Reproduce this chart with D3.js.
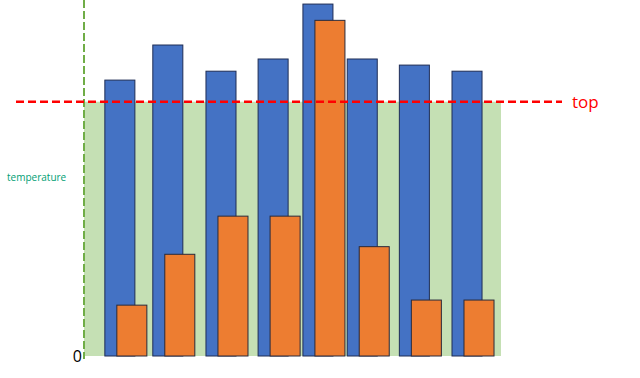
<!DOCTYPE html>
<html lang="en">
<head>
    <meta charset="UTF-8">
    <title>Temperature bars</title>
    <style>
        body { margin: 0; background: #fff; }
        text { font-family: "Open Sans", "DejaVu Sans", sans-serif; }
    </style>
</head>
<body>
<svg height="378" width="640"></svg>

<script src="https://d3js.org/d3.v7.min.js"></script>
<script>

    // category positions (in slot units) and values
    var slots = [0.4, 1.32, 2.34, 3.34, 4.2, 5.05, 6.05, 7.06];
    var blueVals = [108.5, 122.3, 112, 116.8, 138.4, 116.8, 114.4, 112];
    var orangeVals = [20, 40, 55, 55, 132, 43, 22, 22];
    var topVal = 100;
    var zeroLabel = "0";

    var svg = d3.select("svg");

    var x = d3.scaleLinear().domain([0, 8]).range([84, 501]);
    var y = d3.scaleLinear().domain([0, 140]).range([356, 0]);
    var barW = x(0.576) - x(0);
    var orangeShift = x(0.23) - x(0);

    // green band behind bars
    svg.append("rect")
        .attr("x", x(0))
        .attr("y", y(topVal))
        .attr("width", x(8) - x(0))
        .attr("height", y(0) - y(topVal))
        .attr("fill", "#c5e0b4");

    // blue series
    svg.selectAll(".blue")
        .data(blueVals)
        .enter()
        .append("rect")
        .attr("class", "blue")
        .attr("x", function(d, i) { return x(slots[i]) })
        .attr("y", function(d) { return y(d) })
        .attr("width", barW)
        .attr("height", function(d) { return y(0) - y(d) })
        .attr("fill", "#4472c4")
        .attr("stroke", "#1f2d55")
        .attr("stroke-width", 1);

    // orange series
    svg.selectAll(".orange")
        .data(orangeVals)
        .enter()
        .append("rect")
        .attr("class", "orange")
        .attr("x", function(d, i) { return x(slots[i]) + orangeShift })
        .attr("y", function(d) { return y(d) })
        .attr("width", barW)
        .attr("height", function(d) { return y(0) - y(d) })
        .attr("fill", "#ed7d31")
        .attr("stroke", "#2a2a3a")
        .attr("stroke-width", 1);

    // vertical green dashed axis
    svg.append("line")
        .attr("x1", x(0)).attr("x2", x(0))
        .attr("y1", 0).attr("y2", y(0) + 3)
        .attr("stroke", "#70ad47")
        .attr("stroke-width", 2)
        .attr("stroke-dasharray", "8,3");

    // red "top" line
    svg.append("line")
        .attr("x1", 16).attr("x2", 562)
        .attr("y1", y(topVal)).attr("y2", y(topVal))
        .attr("stroke", "#ff0000")
        .attr("stroke-width", 2.5)
        .attr("stroke-dasharray", "8,4");

    svg.append("text")
        .attr("x", 572)
        .attr("y", y(topVal) + 6)
        .attr("fill", "#ff0000")
        .attr("font-size", 17)
        .text("top");

    svg.append("text")
        .attr("x", 7)
        .attr("y", 181)
        .attr("fill", "#00a074")
        .attr("font-size", 10)
        .text("temperature");

    svg.append("text")
        .attr("x", x(0) - 2)
        .attr("y", y(0) + 6)
        .attr("text-anchor", "end")
        .attr("fill", "#000")
        .attr("font-size", 16)
        .text(zeroLabel);

</script>
</body>
</html>
